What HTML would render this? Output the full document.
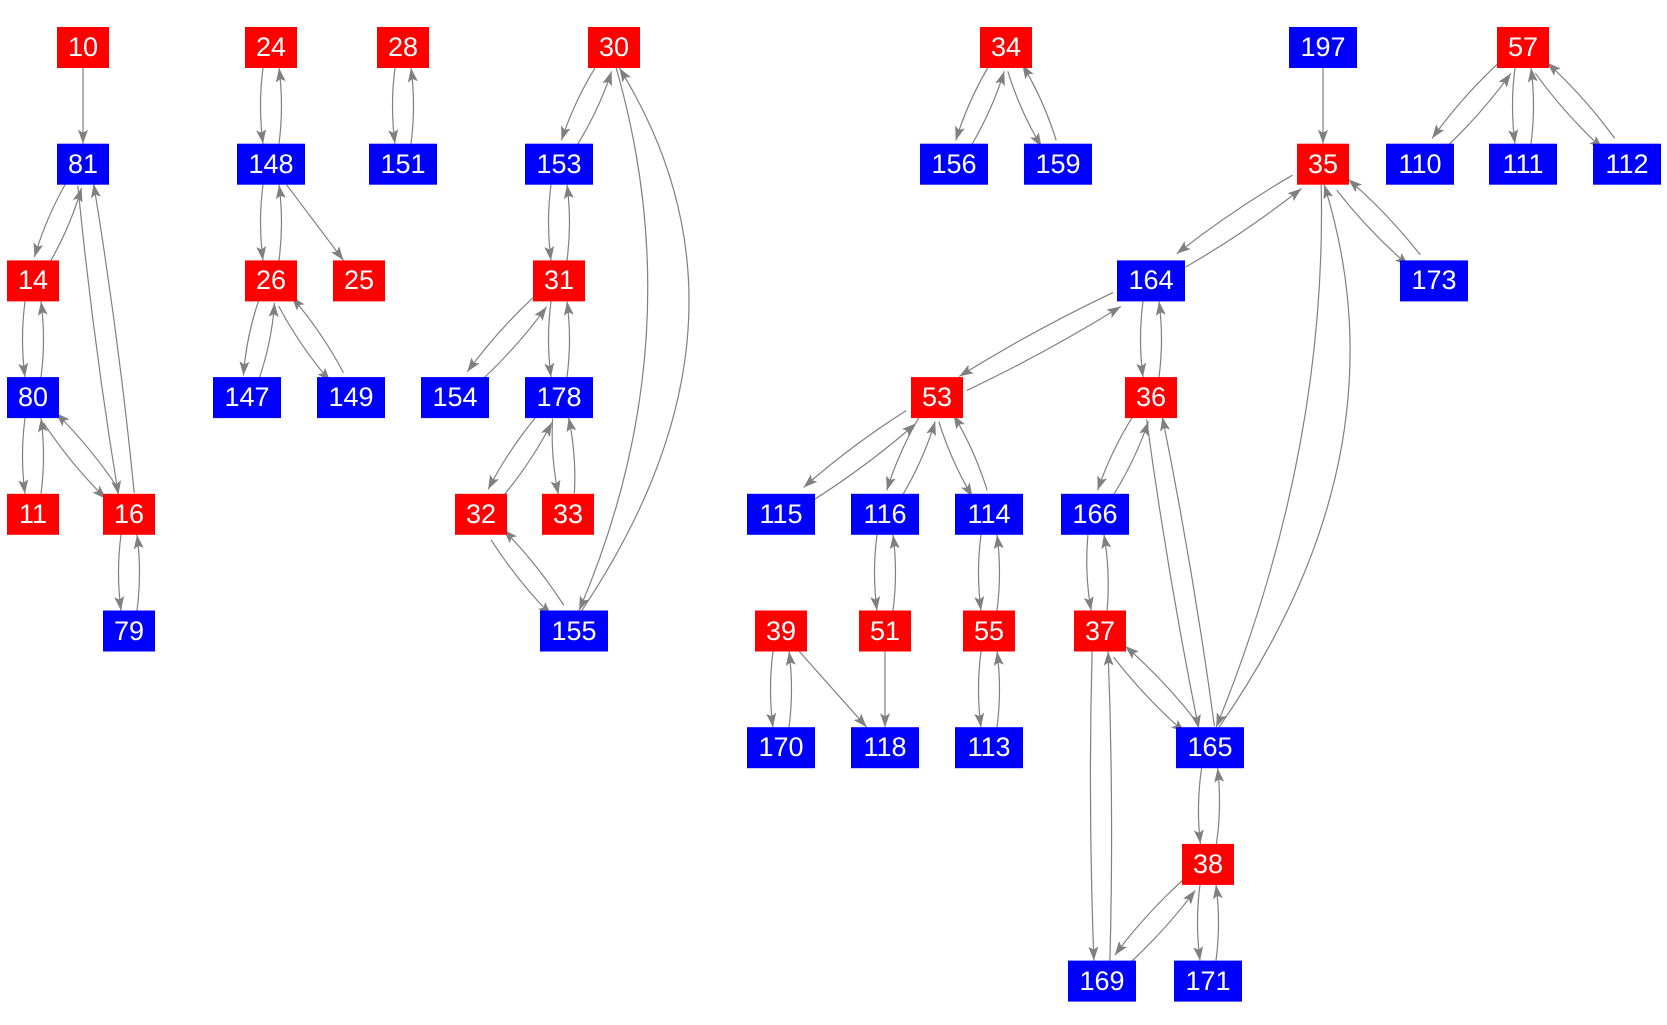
<!DOCTYPE html>
<html><head><meta charset="utf-8"><style>
html,body{margin:0;padding:0;background:#fff;}
svg{display:block;}
</style></head><body>
<svg id="s" width="1667" height="1025" viewBox="0 0 1667 1025" xmlns="http://www.w3.org/2000/svg">
<defs><marker id="a" viewBox="0 0 14 10" refX="14" refY="5" markerWidth="14" markerHeight="10" markerUnits="userSpaceOnUse" orient="auto"><path d="M0,0 L14,5 L0,10 L3,5 z" fill="#808080"/></marker></defs>
<g id="edges" fill="none" stroke="#808080" stroke-width="1.2"></g>
<g id="nodes"></g>
</svg>
<script>
var H=41;
function ry(k){return 47.5+116.7*k;}
var N={
'10':[83,0,'r'],'24':[271,0,'r'],'28':[403,0,'r'],'30':[614,0,'r'],'34':[1006,0,'r'],'197':[1323,0,'b'],'57':[1523,0,'r'],
'81':[83,1,'b'],'148':[271,1,'b'],'151':[403,1,'b'],'153':[559,1,'b'],'156':[954,1,'b'],'159':[1058,1,'b'],'35':[1323,1,'r'],'110':[1420,1,'b'],'111':[1523,1,'b'],'112':[1627,1,'b'],
'14':[33,2,'r'],'26':[271,2,'r'],'25':[359,2,'r'],'31':[559,2,'r'],'164':[1151,2,'b'],'173':[1434,2,'b'],
'80':[33,3,'b'],'147':[247,3,'b'],'149':[351,3,'b'],'154':[455,3,'b'],'178':[559,3,'b'],'53':[937,3,'r'],'36':[1151,3,'r'],
'11':[33,4,'r'],'16':[129,4,'r'],'32':[481,4,'r'],'33':[568,4,'r'],'115':[781,4,'b'],'116':[885,4,'b'],'114':[989,4,'b'],'166':[1095,4,'b'],
'79':[129,5,'b'],'155':[574,5,'b'],'39':[781,5,'r'],'51':[885,5,'r'],'55':[989,5,'r'],'37':[1100,5,'r'],
'170':[781,6,'b'],'118':[885,6,'b'],'113':[989,6,'b'],'165':[1210,6,'b'],
'38':[1208,7,'r'],
'169':[1102,8,'b'],'171':[1208,8,'b']};
function W(id){return id.length>2?68:52;}
var E=[['10','81'],['81','14'],['14','81'],['81','16'],['16','81'],['14','80'],['80','14'],['80','11'],['11','80'],['80','16'],['16','80'],['16','79'],['79','16'],
['24','148'],['148','24'],['148','26'],['26','148'],['148','25'],['26','147'],['147','26'],['26','149'],['149','26'],['28','151'],['151','28'],
['30','153'],['153','30'],['30','155',[646,340]],['155','30',[688,330]],['153','31'],['31','153'],['31','154'],['154','31'],['31','178'],['178','31'],['178','32'],['32','178'],['178','33'],['33','178'],['32','155'],['155','32'],
['34','156'],['156','34'],['34','159'],['159','34'],['197','35'],['35','164'],['164','35'],['35','165',[1298,455]],['165','35',[1340,455]],['35','173'],['173','35'],
['57','110'],['110','57'],['57','111'],['111','57'],['57','112'],['112','57'],
['164','53'],['53','164'],['164','36'],['36','164'],['53','115'],['115','53'],['53','116'],['116','53'],['53','114'],['114','53'],['36','166'],['166','36'],['36','165'],['165','36'],
['116','51'],['51','116'],['114','55'],['55','114'],['166','37'],['37','166'],['37','165'],['165','37'],['37','169'],['169','37'],['39','170'],['170','39'],['39','118'],['51','118'],['55','113'],['113','55'],
['165','38'],['38','165'],['38','169'],['169','38'],['38','171'],['171','38']];
function P(id){return [N[id][0],ry(N[id][1])];}
function clip(c,w,dx,dy){var hx=w/2,hy=H/2,s=Infinity;
 if(dx)s=Math.min(s,hx/Math.abs(dx)); if(dy)s=Math.min(s,hy/Math.abs(dy));
 return [c[0]+dx*s,c[1]+dy*s];}
var pair={};E.forEach(function(e){pair[e[0]+'>'+e[1]]=1;});
var h='';
E.forEach(function(e){
 var a=P(e[0]),b=P(e[1]),dx=b[0]-a[0],dy=b[1]-a[1],L=Math.hypot(dx,dy),ux=dx/L,uy=dy/L,nx=-uy,ny=ux;
 var bi=pair[e[1]+'>'+e[0]];
 var off=bi?8:0;
 var sa=[a[0]+nx*off,a[1]+ny*off],sb=[b[0]+nx*off,b[1]+ny*off];
 var p0,p1,c;
 if(e[2]){var v=e[2];
  p0=clip(a,W(e[0]),v[0]-a[0],v[1]-a[1]);
  p1=clip(b,W(e[1]),v[0]-b[0],v[1]-b[1]);
  c=[2*v[0]-(p0[0]+p1[0])/2,2*v[1]-(p0[1]+p1[1])/2];
 }else{
  var dd=[sb[0]-sa[0],sb[1]-sa[1]];
  p0=clip(sa,W(e[0]),dd[0],dd[1]);p1=clip(sb,W(e[1]),-dd[0],-dd[1]);
  var bow=bi?5:0;
  c=[(p0[0]+p1[0])/2+nx*bow,(p0[1]+p1[1])/2+ny*bow];
 }
 h+='<path d="M'+p0[0].toFixed(1)+','+p0[1].toFixed(1)+' Q'+c[0].toFixed(1)+','+c[1].toFixed(1)+' '+p1[0].toFixed(1)+','+p1[1].toFixed(1)+'" marker-end="url(#a)"/>';
});
document.getElementById('edges').innerHTML=h;
var s='';
for(var k in N){var n=N[k],w=W(k),x=n[0],y=ry(n[1]);
 s+='<rect x="'+(x-w/2)+'" y="'+(y-H/2)+'" width="'+w+'" height="'+H+'" fill="'+(n[2]=='r'?'#ff0000':'#0000ff')+'"/>';}
document.getElementById('nodes').innerHTML=s;
</script>
<div style="position:absolute;left:0;top:0;width:1667px;height:1025px;pointer-events:none;font-family:'Liberation Sans',Arial,sans-serif;font-size:27px;color:#fff;">
<div id="labels"></div>
</div>
<script>
var t='';
for(var k in N){var n=N[k],w=W(k);t+='<div style="position:absolute;left:'+(n[0]-w/2)+'px;top:'+(ry(n[1])-H/2)+'px;width:'+w+'px;height:'+H+'px;line-height:'+H+'px;text-align:center;">'+k+'</div>';}
document.getElementById('labels').innerHTML=t;
</script>
<noscript>10 24 28 30 34 197 57 81 148 151 153 156 159 35 110 111 112 14 26 25 31 164 173 80 147 149 154 178 53 36 11 16 32 33 115 116 114 166 79 155 39 51 55 37 170 118 113 165 38 169 171</noscript>
</body></html>
